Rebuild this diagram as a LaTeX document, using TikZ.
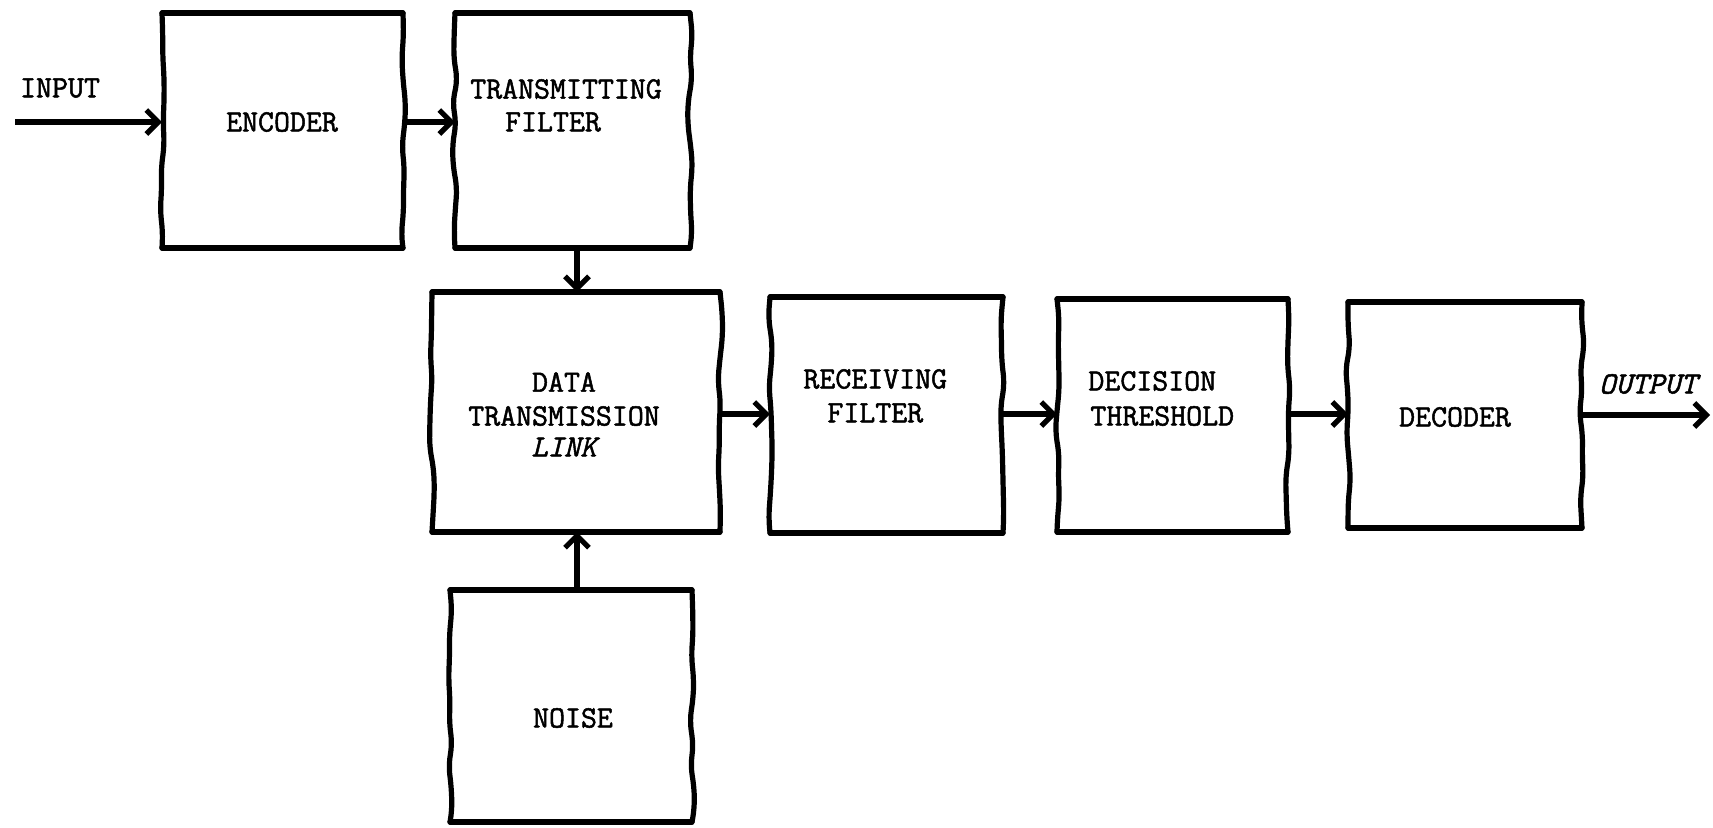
\documentclass[tikz,border=0pt]{standalone}
\usepackage{fontspec}
\newfontfamily\twfont{Latin Modern Mono}[FakeBold=1.6]
\usetikzlibrary{fit,arrows.meta,decorations.pathmorphing}
\tikzset{
  boxarea/.style={draw=none,inner sep=0pt,outer sep=0pt},
  frame/.style={line width=2.6pt,line cap=round,line join=round},
  wavy/.style={frame,rounded corners=5pt,decorate,decoration={random steps,amplitude=1.3pt,segment length=11pt}},
  lbl/.style={font=\twfont\fontsize{15.5}{18}\selectfont,inner sep=0pt},
  ilbl/.style={lbl,font=\twfont\itshape\fontsize{15.5}{18}\selectfont},
  conn/.style={line width=2.6pt,-{Straight Barb[length=6pt,width=12pt]}},
}
\newcommand\wbox[1]{%
  \draw[frame] (#1.north west) -- (#1.north east);
  \draw[frame] (#1.south west) -- (#1.south east);
  \draw[wavy] (#1.north east) -- (#1.south east);
  \draw[wavy] (#1.north west) -- (#1.south west);
}
\begin{document}
\begin{tikzpicture}[x=0.5pt,y=-0.5pt]
\pgfmathsetseed{7}
\path[use as bounding box,fill=white] (0,0) rectangle (1713,827);
% boxes
\node[boxarea,fit={(162,13) (403,248)}] (enc) {};
\node[boxarea,fit={(455,13) (690,248)}] (tf) {};
\node[boxarea,fit={(432,292) (720,532)}] (dtl) {};
\node[boxarea,fit={(770,297) (1003,533)}] (rf) {};
\node[boxarea,fit={(1057,299) (1288,532)}] (dt) {};
\node[boxarea,fit={(1348,302) (1582,528)}] (dec) {};
\node[boxarea,fit={(450,590) (692,822)}] (noise) {};
\wbox{enc}\wbox{tf}\wbox{dtl}\wbox{rf}\wbox{dt}\wbox{dec}\wbox{noise}
% labels
\node[lbl] (tinput) at (60,88) {INPUT};
\node[lbl] (tenc) at (282,122) {ENCODER};
\node[lbl] (ttf1) at (566,89) {TRANSMITTING};
\node[lbl] (ttf2) at (553,122) {FILTER};
\node[lbl] (tdtl1) at (564,382) {DATA};
\node[lbl] (tdtl2) at (564,416) {TRANSMISSION};
\node[ilbl] (tdtl3) at (564,447) {LINK};
\node[lbl,anchor=west] (trf1) at (803,379) {RECEIVING};
\node[lbl,anchor=west] (trf2) at (827,413) {FILTER};
\node[lbl,anchor=west] (tdt1) at (1088,381) {DECISION};
\node[lbl,anchor=west] (tdt2) at (1090,416) {THRESHOLD};
\node[lbl] (tdec) at (1455,417) {DECODER};
\node[ilbl] (tout) at (1648,384) {OUTPUT};
\node[lbl] (tnoise) at (573,718) {NOISE};
% connectors
\coordinate (inp) at (15,122);
\coordinate (row) at (0,414);
\coordinate (outp) at (1710,415);
\draw[conn] (inp) -- (inp -| enc.west);
\draw[conn] (enc.east |- inp) -- (tf.west |- inp);
\draw[conn] (tf.south -| 577,0) -- (dtl.north -| 577,0);
\draw[conn] (noise.north -| 577,0) -- (dtl.south -| 577,0);
\draw[conn] (dtl.east |- row) -- (rf.west |- row);
\draw[conn] (rf.east |- row) -- (dt.west |- row);
\draw[conn] (dt.east |- row) -- (dec.west |- row);
\draw[conn] (dec.east |- outp) -- (outp);
\end{tikzpicture}
\end{document}
